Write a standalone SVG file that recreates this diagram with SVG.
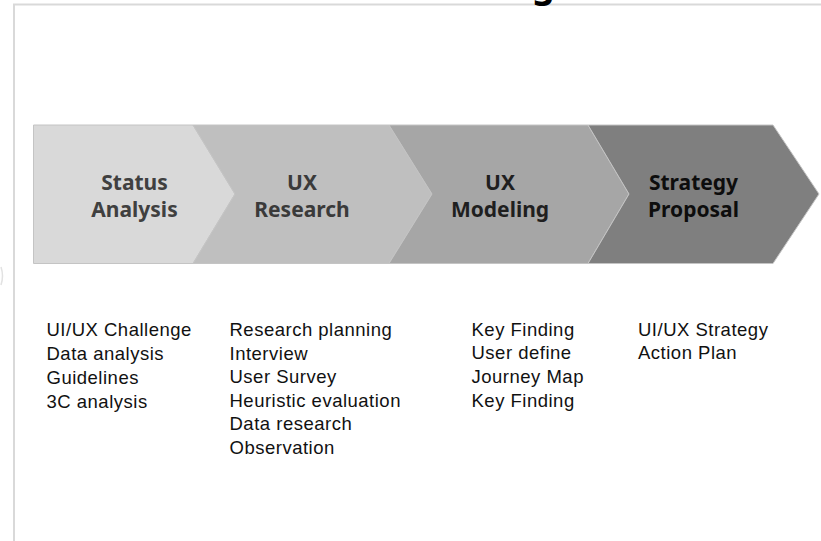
<svg xmlns="http://www.w3.org/2000/svg" width="821" height="541" viewBox="0 0 821 541">
  <style>
    .frame { fill: none; stroke: #d9d9d9; stroke-width: 2; }
    .chev { stroke: #c4c4c4; stroke-width: 1; }
    .head { font-family: "Noto Sans", "Open Sans", sans-serif; font-weight: bold; font-size: 21px; text-anchor: middle; }
    .item { font-family: "Liberation Sans", Arial, sans-serif; font-size: 18.5px; letter-spacing: 0.5px; fill: #111111; }
    .title { font-family: "Noto Sans", sans-serif; font-weight: bold; font-size: 36px; fill: #000000; }
  </style>
  <rect x="0" y="0" width="821" height="541" fill="#ffffff"/>
  <path class="frame" d="M14,541 V4.5 H821"/>
  <path d="M1,267 Q4,276 1,285" fill="none" stroke="#e2e2e2" stroke-width="1.5"/>
  <text class="title" x="532" y="-3">g</text>

  <g id="status-analysis">
    <polygon class="chev" fill="#d9d9d9" points="33.5,125 193,125 235,194 193,263.5 33.5,263.5"/>
    <text class="head" fill="#404040"><tspan x="134.5" y="190">Status</tspan><tspan x="134.5" y="217">Analysis</tspan></text>
  </g>
  <g id="ux-research">
    <polygon class="chev" fill="#bfbfbf" points="193,125 389,125 432,194 389,263.5 193,263.5 235,194"/>
    <text class="head" fill="#3a3a3a"><tspan x="302" y="190">UX</tspan><tspan x="302" y="217">Research</tspan></text>
  </g>
  <g id="ux-modeling">
    <polygon class="chev" fill="#a6a6a6" points="389,125 588,125 629,194 588,263.5 389,263.5 432,194"/>
    <text class="head" fill="#1f1f1f"><tspan x="500" y="190">UX</tspan><tspan x="500" y="217">Modeling</tspan></text>
  </g>
  <g id="strategy-proposal">
    <polygon class="chev" fill="#7f7f7f" points="588,125 773,125 819,194 773,263.5 588,263.5 629,194"/>
    <text class="head" fill="#0d0d0d"><tspan x="693.5" y="190">Strategy</tspan><tspan x="693.5" y="217">Proposal</tspan></text>
  </g>

  <g id="status-items">
    <text class="item"><tspan x="46.5" y="336">UI/UX Challenge</tspan><tspan x="46.5" y="360">Data analysis</tspan><tspan x="46.5" y="384">Guidelines</tspan><tspan x="46.5" y="408">3C analysis</tspan></text>
  </g>
  <g id="research-items">
    <text class="item"><tspan x="229.5" y="336">Research planning</tspan><tspan x="229.5" y="359.5">Interview</tspan><tspan x="229.5" y="383">User Survey</tspan><tspan x="229.5" y="406.5">Heuristic evaluation</tspan><tspan x="229.5" y="430">Data research</tspan><tspan x="229.5" y="453.5">Observation</tspan></text>
  </g>
  <g id="modeling-items">
    <text class="item"><tspan x="471.5" y="335.5">Key Finding</tspan><tspan x="471.5" y="359">User define</tspan><tspan x="471.5" y="383">Journey Map</tspan><tspan x="471.5" y="406.5">Key Finding</tspan></text>
  </g>
  <g id="strategy-items">
    <text class="item"><tspan x="638" y="335.5">UI/UX Strategy</tspan><tspan x="638" y="359">Action Plan</tspan></text>
  </g>
  <g id="connectors"></g>
</svg>
